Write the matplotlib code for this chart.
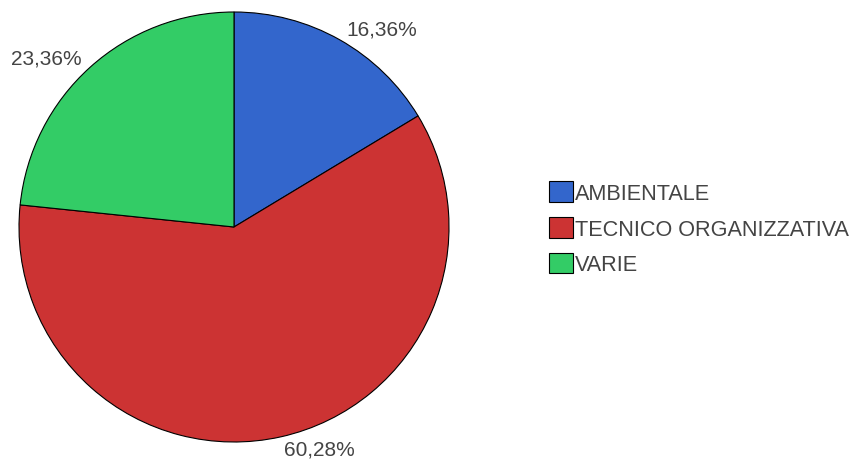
import matplotlib.pyplot as plt
from matplotlib.patches import Patch

categorie = ["AMBIENTALE", "TECNICO ORGANIZZATIVA", "VARIE"]
percentuali = [16.36, 60.28, 23.36]
colori = ["#3366CC", "#CC3333", "#33CC66"]

plt.rcParams['font.family'] = ['Liberation Sans', 'DejaVu Sans']

fig = plt.figure(figsize=(8.57, 4.64), dpi=100)
W, H = 857, 464
ax = fig.add_axes([19 / W, (H - 443) / H, 430 / W, 430 / H])

etichette = [f"{p:.2f}".replace(".", ",") + "%" for p in percentuali]
wedges, testi = ax.pie(percentuali, colors=colori, startangle=90, counterclock=False,
                       labels=etichette, labeldistance=1.06,
                       wedgeprops=dict(edgecolor="black", linewidth=0.8),
                       textprops=dict(fontsize=15, color="#444444"))
ax.set_xlim(-1, 1)
ax.set_ylim(-1, 1)
ax.set_aspect("equal")

maniglie = [Patch(facecolor=c, edgecolor="black", linewidth=0.8) for c in colori]
fig.legend(maniglie, categorie, loc="upper left",
           bbox_to_anchor=(549 / W, (H - 182) / H), frameon=False,
           fontsize=15.6, handlelength=1.1, handleheight=1.1, handletextpad=0.1,
           labelspacing=0.6, borderpad=0, borderaxespad=0, labelcolor="#444444")

fig.savefig("out.png", dpi=100)
